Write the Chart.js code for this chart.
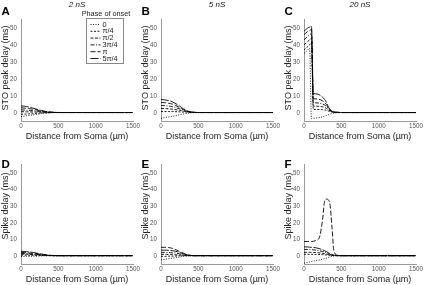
<!DOCTYPE html>
<html>
<head>
<meta charset="utf-8">
<script src="https://cdn.jsdelivr.net/npm/chart.js@4.4.1/dist/chart.umd.min.js"></script>
<style>
  body { margin: 0; background: #fff; width: 428px; height: 285px; overflow: hidden; position: relative; }
  .panel { position: absolute; }
</style>
</head>
<body>
<div class="panel" style="left:0px;top:0px"><canvas id="chartA" width="142" height="142"></canvas></div>
<div class="panel" style="left:140px;top:0px"><canvas id="chartB" width="142" height="142"></canvas></div>
<div class="panel" style="left:283px;top:0px"><canvas id="chartC" width="142" height="142"></canvas></div>
<div class="panel" style="left:0px;top:145px"><canvas id="chartD" width="142" height="140"></canvas></div>
<div class="panel" style="left:140px;top:145px"><canvas id="chartE" width="142" height="140"></canvas></div>
<div class="panel" style="left:283px;top:145px"><canvas id="chartF" width="142" height="140"></canvas></div>
<script>
  // Distance from soma (µm), shared by every series
  const distance = [0, 50, 75, 100, 125, 150, 200, 250, 275, 300, 325, 350, 375, 400, 450, 500, 600, 800, 1000, 1500];
  const phaseLabels = ['0', 'π/4', 'π/2', '3π/4', 'π', '5π/4'];
  const yTickValues = [0, 10, 20, 30, 40, 50];
  const xTickValues = [0, 500, 1000, 1500];

  // A: STO peak delay, 2 nS (one row per phase of onset)
  const stoDelay2nS = [
    [-2.4, -2.1, -1.9, -1.8, -1.6, -1.5, -1.1, -0.8, -0.6, -0.5, -0.4, -0.3, -0.2, -0.1, 0, 0, 0, 0, 0, 0],
    [-1.0, -0.9, -0.9, -0.8, -0.7, -0.7, -0.5, -0.4, -0.3, -0.2, -0.2, -0.1, -0.1, 0, 0, 0, 0, 0, 0, 0],
    [0.5, 0.5, 0.4, 0.4, 0.4, 0.3, 0.3, 0.2, 0.2, 0.1, 0.1, 0.1, 0, 0, 0, 0, 0, 0, 0, 0],
    [1.6, 1.5, 1.4, 1.3, 1.2, 1.1, 0.9, 0.6, 0.5, 0.4, 0.3, 0.2, 0.2, 0.1, 0, 0, 0, 0, 0, 0],
    [2.8, 2.6, 2.5, 2.4, 2.2, 2.0, 1.6, 1.1, 0.9, 0.7, 0.5, 0.4, 0.3, 0.2, 0.1, 0, 0, 0, 0, 0],
    [4.0, 3.7, 3.5, 3.3, 3.0, 2.7, 2.1, 1.5, 1.2, 1.0, 0.7, 0.5, 0.4, 0.3, 0.1, 0.05, 0, 0, 0, 0]
  ];
  // B: STO peak delay, 5 nS
  const stoDelay5nS = [
    [-3.4, -3.0, -2.8, -2.6, -2.4, -2.2, -1.8, -1.3, -1.1, -0.9, -0.7, -0.5, -0.3, -0.2, -0.1, 0, 0, 0, 0, 0],
    [0.6, 0.6, 0.6, 0.6, 0.6, 0.6, 0.5, 0.4, 0.35, 0.3, 0.25, 0.2, 0.1, 0.1, 0, 0, 0, 0, 0, 0],
    [2.4, 2.3, 2.3, 2.2, 2.1, 2.0, 1.7, 1.3, 1.1, 0.9, 0.7, 0.5, 0.3, 0.2, 0.1, 0, 0, 0, 0, 0],
    [4.2, 4.1, 4.0, 3.9, 3.7, 3.5, 2.9, 2.2, 1.8, 1.4, 1.0, 0.7, 0.4, 0.2, 0.1, 0, 0, 0, 0, 0],
    [6.0, 5.8, 5.7, 5.5, 5.3, 5.0, 4.1, 3.0, 2.4, 1.8, 1.3, 0.9, 0.5, 0.3, 0.1, 0, 0, 0, 0, 0],
    [7.7, 7.5, 7.3, 7.1, 6.8, 6.4, 5.2, 3.8, 3.0, 2.2, 1.6, 1.0, 0.6, 0.3, 0.1, 0, 0, 0, 0, 0]
  ];
  // C: STO peak delay, 20 nS
  const stoDelay20nS = [
    [35, 37, 38, -3.5, -3.4, -3.3, -3.0, -2.5, -2.1, -1.7, -1.3, -0.9, -0.6, -0.3, -0.1, 0, 0, 0, 0, 0],
    [37, 39, 40, 41, 1.8, 1.8, 1.8, 1.7, 1.5, 1.3, 0.9, 0.5, 0.3, 0.1, 0, 0, 0, 0, 0, 0],
    [40, 42, 43, 44, 3.8, 3.8, 3.7, 3.4, 3.0, 2.5, 1.7, 1.0, 0.5, 0.2, 0.1, 0, 0, 0, 0, 0],
    [43, 45, 46, 46.5, 5.8, 5.8, 5.6, 5.0, 4.5, 3.7, 2.4, 1.3, 0.7, 0.3, 0.1, 0, 0, 0, 0, 0],
    [46, 48, 48.5, 49, 8.2, 8.1, 7.8, 6.9, 6.0, 4.8, 3.0, 1.6, 0.8, 0.3, 0.1, 0, 0, 0, 0, 0],
    [48, 50, 50.5, 51, 11.2, 11.1, 10.6, 9.0, 7.8, 6.0, 3.5, 1.8, 0.9, 0.3, 0.1, 0, 0, 0, 0, 0]
  ];
  // D: spike delay, 2 nS
  const spikeDelay2nS = [
    [-0.5, -0.5, -0.4, -0.4, -0.4, -0.3, -0.3, -0.2, -0.2, -0.1, -0.1, 0, 0, 0, 0, 0, 0, 0, 0, 0],
    [0.3, 0.3, 0.3, 0.3, 0.2, 0.2, 0.2, 0.1, 0.1, 0.1, 0, 0, 0, 0, 0, 0, 0, 0, 0, 0],
    [0.9, 0.9, 0.8, 0.8, 0.7, 0.7, 0.5, 0.4, 0.3, 0.2, 0.2, 0.1, 0.1, 0, 0, 0, 0, 0, 0, 0],
    [1.4, 1.3, 1.3, 1.2, 1.1, 1.0, 0.8, 0.6, 0.5, 0.4, 0.3, 0.2, 0.1, 0.1, 0, 0, 0, 0, 0, 0],
    [2.0, 1.9, 1.8, 1.7, 1.6, 1.5, 1.2, 0.9, 0.7, 0.5, 0.4, 0.3, 0.2, 0.1, 0, 0, 0, 0, 0, 0],
    [2.7, 2.5, 2.4, 2.3, 2.2, 2.0, 1.6, 1.2, 1.0, 0.8, 0.6, 0.4, 0.3, 0.2, 0.1, 0, 0, 0, 0, 0]
  ];
  // E: spike delay, 5 nS
  const spikeDelay5nS = [
    [-2.5, -2.2, -2.0, -1.9, -1.7, -1.5, -1.2, -0.8, -0.6, -0.4, -0.3, -0.2, -0.1, 0, 0, 0, 0, 0, 0, 0],
    [-0.4, -0.4, -0.4, -0.3, -0.3, -0.3, -0.2, -0.1, -0.1, 0, 0, 0, 0, 0, 0, 0, 0, 0, 0, 0],
    [0.8, 0.8, 0.8, 0.7, 0.7, 0.6, 0.5, 0.4, 0.3, 0.2, 0.1, 0.1, 0, 0, 0, 0, 0, 0, 0, 0],
    [2.0, 2.0, 1.9, 1.9, 1.8, 1.7, 1.5, 1.1, 0.9, 0.7, 0.5, 0.3, 0.2, 0.1, 0, 0, 0, 0, 0, 0],
    [5.0, 5.0, 5.0, 4.9, 4.7, 4.4, 3.6, 2.5, 2.0, 1.5, 1.0, 0.6, 0.3, 0.1, 0, 0, 0, 0, 0, 0],
    [3.4, 3.3, 3.3, 3.2, 3.1, 3.0, 2.6, 1.9, 1.5, 1.1, 0.8, 0.5, 0.3, 0.1, 0, 0, 0, 0, 0, 0]
  ];
  // F: spike delay, 20 nS
  const spikeDelay20nS = [
    [-4.5, -4.0, -3.8, -3.5, -3.3, -3.0, -2.6, -2.1, -1.8, -1.5, -1.1, -0.7, -0.4, -0.2, 0, 0, 0, 0, 0, 0],
    [0.8, 0.8, 0.8, 0.8, 0.8, 0.7, 0.7, 0.6, 0.5, 0.4, 0.3, 0.2, 0.1, 0.1, 0, 0, 0, 0, 0, 0],
    [2.0, 2.0, 2.0, 2.0, 1.9, 1.9, 1.7, 1.4, 1.2, 1.0, 0.7, 0.4, 0.2, 0.1, 0, 0, 0, 0, 0, 0],
    [3.8, 3.7, 3.7, 3.6, 3.5, 3.4, 3.0, 2.5, 2.2, 1.8, 1.3, 0.8, 0.4, 0.2, 0, 0, 0, 0, 0, 0],
    [8.5, 8.5, 8.5, 8.5, 8.6, 9.0, 10.3, 22, 32.5, 34, 33.5, 30, 17, 3, 0.2, 0, 0, 0, 0, 0],
    [5.3, 5.2, 5.1, 5.0, 4.9, 4.8, 4.3, 3.5, 3.0, 2.5, 1.8, 1.2, 0.7, 0.3, 0.1, 0, 0, 0, 0, 0]
  ];

  // Line dash per phase of onset
  const phaseDashes = [[1, 1.5], [2, 1.5], [3, 1.5], [4, 1.5, 1, 1.5], [5, 2], [8, 1.5]];

  const FONT = '"Liberation Sans", Arial, sans-serif';

  // Panel letter and rotated y title
  const panelText = {
    id: 'panelText',
    afterDraw(chart, args, opts) {
      const ctx = chart.ctx;
      ctx.save();
      ctx.fillStyle = '#000';
      ctx.font = 'bold 11.5px ' + FONT;
      ctx.textBaseline = 'alphabetic';
      ctx.textAlign = 'left';
      ctx.fillText(opts.letter, 1.5, opts.letterY);
      ctx.translate(5.8, opts.yTitleY);
      ctx.rotate(-Math.PI / 2);
      ctx.font = '9px ' + FONT;
      ctx.fillStyle = '#222';
      ctx.textAlign = 'center';
      ctx.textBaseline = 'middle';
      ctx.fillText(opts.yTitle, 0, 0);
      ctx.restore();
    }
  };

  // Tick labels in a condensed face, placed from the chart's own scales
  const narrowTicks = {
    id: 'narrowTicks',
    afterDraw(chart) {
      const ctx = chart.ctx;
      const xs = chart.scales.x, ys = chart.scales.y;
      ctx.save();
      ctx.fillStyle = '#555';
      ctx.font = '8px ' + FONT;
      ctx.textBaseline = 'middle';
      ctx.textAlign = 'center';
      xs.ticks.forEach(t => {
        ctx.save();
        ctx.translate(xs.getPixelForValue(t.value), xs.top + 4.8);
        ctx.scale(0.78, 1);
        ctx.fillText(String(t.value), 0, 0);
        ctx.restore();
      });
      ctx.textAlign = 'right';
      ys.ticks.forEach(t => {
        ctx.save();
        ctx.translate(ys.right - 4, ys.getPixelForValue(t.value));
        ctx.scale(0.78, 1);
        ctx.fillText(String(t.value), 0, 0);
        ctx.restore();
      });
      ctx.restore();
    }
  };

  // Boxed legend in panel A
  const onsetLegend = {
    id: 'onsetLegend',
    afterDraw(chart) {
      const ctx = chart.ctx;
      ctx.save();
      ctx.strokeStyle = '#888';
      ctx.lineWidth = 1;
      ctx.strokeRect(86.5, 18.5, 37, 45);
      ctx.fillStyle = '#222';
      ctx.font = '7.3px ' + FONT;
      ctx.textAlign = 'center';
      ctx.textBaseline = 'middle';
      ctx.fillText('Phase of onset', 106, 13.5);
      chart.data.datasets.forEach((ds, i) => {
        const y = 24.5 + i * 6.8;
        ctx.setLineDash(ds.borderDash);
        ctx.strokeStyle = '#000';
        ctx.lineWidth = 0.9;
        ctx.beginPath();
        ctx.moveTo(90.5, y);
        ctx.lineTo(100.5, y);
        ctx.stroke();
        ctx.setLineDash([]);
        ctx.textAlign = 'left';
        ctx.fillText(ds.label, 102.5, y);
      });
      ctx.restore();
    }
  };

  function makePanel(id, letter, title, yTitle, series, topRow, withLegend) {
    const datasets = series.map((vals, i) => ({
      label: phaseLabels[i],
      data: distance.map((d, j) => ({ x: d, y: vals[j] })),
      borderColor: '#000',
      borderWidth: 0.9,
      borderDash: phaseDashes[i],
      pointRadius: 0,
      fill: false,
      cubicInterpolationMode: 'monotone'
    }));
    const plugins = [panelText, narrowTicks];
    if (withLegend) plugins.push(onsetLegend);
    return new Chart(document.getElementById(id), {
      type: 'line',
      data: { datasets },
      options: {
        responsive: false,
        animation: false,
        layout: { padding: { top: topRow ? 0 : 19, right: 9, left: 0, bottom: 0 } },
        plugins: {
          legend: { display: false },
          tooltip: { enabled: false },
          title: {
            display: topRow,
            text: title,
            fullSize: false,
            color: '#111',
            font: { family: FONT, size: 8, style: 'italic', weight: 'normal', lineHeight: 1 },
            padding: { top: 0.3, bottom: 11.2 }
          },
          panelText: { letter: letter, letterY: topRow ? 15 : 23, yTitle: yTitle, yTitleY: topRow ? 68 : 61 }
        },
        scales: {
          x: {
            type: 'linear',
            min: 0,
            max: 1500,
            afterBuildTicks: s => { s.ticks = xTickValues.map(v => ({ value: v })); },
            afterFit: s => { s.height = 21; s.paddingLeft = 0; s.paddingRight = 0; },
            grid: { display: false, drawTicks: false },
            border: { color: '#999', width: 1 },
            ticks: { display: false },
            title: { display: true, text: 'Distance from Soma (µm)', color: '#222', padding: 0, font: { family: FONT, size: 9 } }
          },
          y: {
            min: -5,
            max: 55,
            afterBuildTicks: s => { s.ticks = yTickValues.map(v => ({ value: v })); },
            afterFit: s => { s.width = 21; s.paddingTop = 0; s.paddingBottom = 0; },
            grid: { display: false, drawTicks: false },
            border: { color: '#999', width: 1 },
            ticks: { display: false },
            title: { display: false }
          }
        }
      },
      plugins: plugins
    });
  }

  makePanel('chartA', 'A', '2 nS', 'STO peak delay (ms)', stoDelay2nS, true, true);
  makePanel('chartB', 'B', '5 nS', 'STO peak delay (ms)', stoDelay5nS, true, false);
  makePanel('chartC', 'C', '20 nS', 'STO peak delay (ms)', stoDelay20nS, true, false);
  makePanel('chartD', 'D', '', 'Spike delay (ms)', spikeDelay2nS, false, false);
  makePanel('chartE', 'E', '', 'Spike delay (ms)', spikeDelay5nS, false, false);
  makePanel('chartF', 'F', '', 'Spike delay (ms)', spikeDelay20nS, false, false);
</script>
</body>
</html>
